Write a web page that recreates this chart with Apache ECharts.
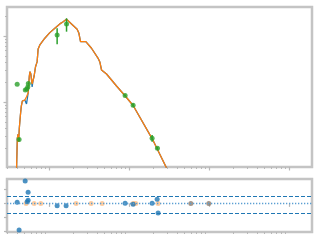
<!DOCTYPE html>
<html><head><meta charset="utf-8">
<script src="https://cdn.jsdelivr.net/npm/echarts@6/dist/echarts.min.js"></script>
<style>html,body{margin:0;padding:0;background:#fff}#c{width:320px;height:240px}</style>
</head><body><div id="c"></div>
<script>
// ---- data ----
const modelX = [0.3947,0.4004,0.4039,0.4133,0.4193,0.4277,0.4402,0.4531,0.4664,0.4801,0.5012,0.5261,0.5510,0.5704,0.5821,0.5957,0.6081,0.6180,0.6368,0.6550,0.6823,0.7144,0.7350,0.7722,0.8105,0.8913,1.029,1.189,1.372,1.496,1.664,1.922,2.259,2.371,2.490,2.637,2.901,3.417,4.133,4.341,4.560,5.263,6.080,7.015,8.913,11.32,19.55,30.7];
const modelOrange = [0.095,0.187,0.285,0.328,0.248,0.404,0.614,0.870,1.036,1.110,1.072,1.203,1.368,2.477,2.878,2.656,2.154,1.874,2.154,2.477,3.426,4.080,6.353,7.305,7.749,9.23,11.22,13.08,15.20,16.29,17.91,15.20,12.64,11.10,8.197,8.606,8.197,6.512,4.592,4.037,3.053,2.656,2.154,1.748,1.255,0.885,0.280,0.092];
const modelBlue = [0.095,0.187,0.285,0.328,0.248,0.404,0.614,0.870,1.036,1.110,1.072,0.933,1.368,2.477,2.878,2.656,2.154,1.687,2.154,2.477,3.426,4.080,6.353,7.305,7.749,9.23,11.22,13.08,15.20,16.29,17.91,15.20,12.64,11.10,8.197,8.606,8.197,6.512,4.592,4.037,3.053,2.656,2.154,1.748,1.255,0.885,0.280,0.092];

const obsX  = [0.402, 0.425, 0.508, 0.531, 0.546, 0.554, 1.27, 1.665, 8.99, 11.32, 19.55, 22.8];
const obsY  = [1.85, 0.272, 1.52, 1.57, 1.69, 1.91, 10.35, 15.2, 1.26, 0.891, 0.282, 0.199];
const obsLo = [1.85, 0.26, 1.48, 1.53, 1.65, 1.87, 7.48, 11.6, 1.22, 0.85, 0.25, 0.19];
const obsHi = [1.85, 0.285, 1.56, 1.61, 1.73, 1.95, 13.1, 18.5, 1.30, 0.95, 0.316, 0.21];

const resX = [0.402, 0.425, 0.506, 0.551, 0.551, 0.536, 1.27, 1.645, 8.99, 11.32, 19.55, 22.6, 23.24];
const resY = [0.09, -1.94, 1.63, 0.81, 0.23, 0.11, -0.18, -0.18, 0.01, -0.06, 0.01, 0.30, -0.71];
const limX = [0.520, 0.655, 0.794, 2.194, 3.378, 4.637, 11.32, 12.23, 23.24];
const limY = [0, 0, 0, 0, 0, 0, 0, 0, 0];
const overlapX = [59.6, 100];
const overlapY = [0, 0];

const sigmaLines = [0.55, -0.7];
const zeroLine = 0;

const xMajorTicks = [1, 10, 100, 1000];
const xMinorTicks = [0.3,0.4,0.5,0.6,0.7,0.8,0.9,2,3,4,5,6,7,8,9,20,30,40,50,60,70,80,90,200,300,400,500,600,700,800,900];
const yMajorTicks = [1, 10];
const yMinorTicks = [0.2,0.3,0.4,0.5,0.6,0.7,0.8,0.9,2,3,4,5,6,7,8,9,20];
const resTicks = [-2, -1, 0, 1];

// ---- chart ----
const zip = (a, b) => a.map((v, i) => [v, b[i]]);
const tickColor = '#b8b8b8';
const X_MIN = 0.3, X_MAX = 1950;
function xAx(grid, ticks, len, w) {
  return { type: 'log', gridIndex: grid, min: X_MIN, max: X_MAX, position: 'bottom',
    axisLine: { show: false }, splitLine: { show: false }, axisLabel: { show: false },
    axisTick: { show: true, customValues: ticks, length: len, inside: false, lineStyle: { color: tickColor, width: w } } };
}
const chart = echarts.init(document.getElementById('c'), null, { renderer: 'canvas' });
chart.setOption({
  animation: false,
  grid: [
    { left: 7, top: 7, width: 305, height: 160, show: true, borderColor: '#c4c4c4', borderWidth: 2.5, backgroundColor: 'transparent' },
    { left: 7, top: 179, width: 305, height: 53, show: true, borderColor: '#c4c4c4', borderWidth: 2.5, backgroundColor: 'transparent' }
  ],
  xAxis: [ xAx(0, xMajorTicks, 3.5, 1.2), xAx(0, xMinorTicks, 2, 1), xAx(1, xMajorTicks, 3.5, 1.2), xAx(1, xMinorTicks, 2, 1) ],
  yAxis: [
    { type: 'log', gridIndex: 0, min: 0.104, max: 27.4, axisLine: { show: false }, splitLine: { show: false }, axisLabel: { show: false },
      axisTick: { show: true, customValues: yMajorTicks, length: 3.5, lineStyle: { color: tickColor, width: 1.2 } } },
    { type: 'log', gridIndex: 0, min: 0.104, max: 27.4, position: 'left', axisLine: { show: false }, splitLine: { show: false }, axisLabel: { show: false },
      axisTick: { show: true, customValues: yMinorTicks, length: 2, lineStyle: { color: tickColor, width: 1 } } },
    { type: 'value', gridIndex: 1, min: -2.09, max: 1.78, axisLine: { show: false }, splitLine: { show: false }, axisLabel: { show: false },
      axisTick: { show: true, customValues: resTicks, length: 3, lineStyle: { color: tickColor, width: 1.2 } } }
  ],
  series: [
    { type: 'line', xAxisIndex: 0, yAxisIndex: 0, data: zip(modelX, modelBlue), showSymbol: false, lineStyle: { color: '#1f77b4', width: 1.3 }, z: 2 },
    { type: 'line', xAxisIndex: 0, yAxisIndex: 0, data: zip(modelX, modelOrange), showSymbol: false, lineStyle: { color: '#ff7f0e', width: 1.3 }, z: 3 },
    { type: 'custom', xAxisIndex: 0, yAxisIndex: 0, z: 4,
      data: obsX.map((x, i) => [x, obsLo[i], obsHi[i]]),
      renderItem: function (params, api) {
        const a = api.coord([api.value(0), api.value(1)]);
        const b = api.coord([api.value(0), api.value(2)]);
        return { type: 'line', shape: { x1: a[0], y1: a[1], x2: b[0], y2: b[1] }, style: { stroke: '#2ca02c', lineWidth: 1.5 } };
      } },
    { type: 'scatter', xAxisIndex: 0, yAxisIndex: 0, data: zip(obsX, obsY), symbol: 'circle', symbolSize: 5, itemStyle: { color: '#2ca02c' }, z: 5 },
    { type: 'line', xAxisIndex: 2, yAxisIndex: 2, data: [], z: 1, silent: true,
      markLine: { silent: true, symbol: 'none', label: { show: false }, animation: false,
        data: [
          { yAxis: sigmaLines[0], lineStyle: { color: '#1f77b4', type: [4, 2], width: 1.1 } },
          { yAxis: sigmaLines[1], lineStyle: { color: '#1f77b4', type: [4, 2], width: 1.1 } },
          { yAxis: zeroLine, lineStyle: { color: '#5b9fd2', type: [1.3, 1.7], width: 1.3 } }
        ] } },
    { type: 'scatter', xAxisIndex: 2, yAxisIndex: 2, data: zip(limX, limY), symbol: 'circle', symbolSize: 5, itemStyle: { color: '#ff7f0e', opacity: 0.4 }, z: 3 },
    { type: 'scatter', xAxisIndex: 2, yAxisIndex: 2, data: zip(overlapX, overlapY), symbol: 'circle', symbolSize: 5, itemStyle: { color: '#8e7c6c' }, z: 3 },
    { type: 'scatter', xAxisIndex: 2, yAxisIndex: 2, data: zip(resX, resY), symbol: 'circle', symbolSize: 5, itemStyle: { color: '#1f77b4' }, z: 4 }
  ]
});
</script>
</body></html>
